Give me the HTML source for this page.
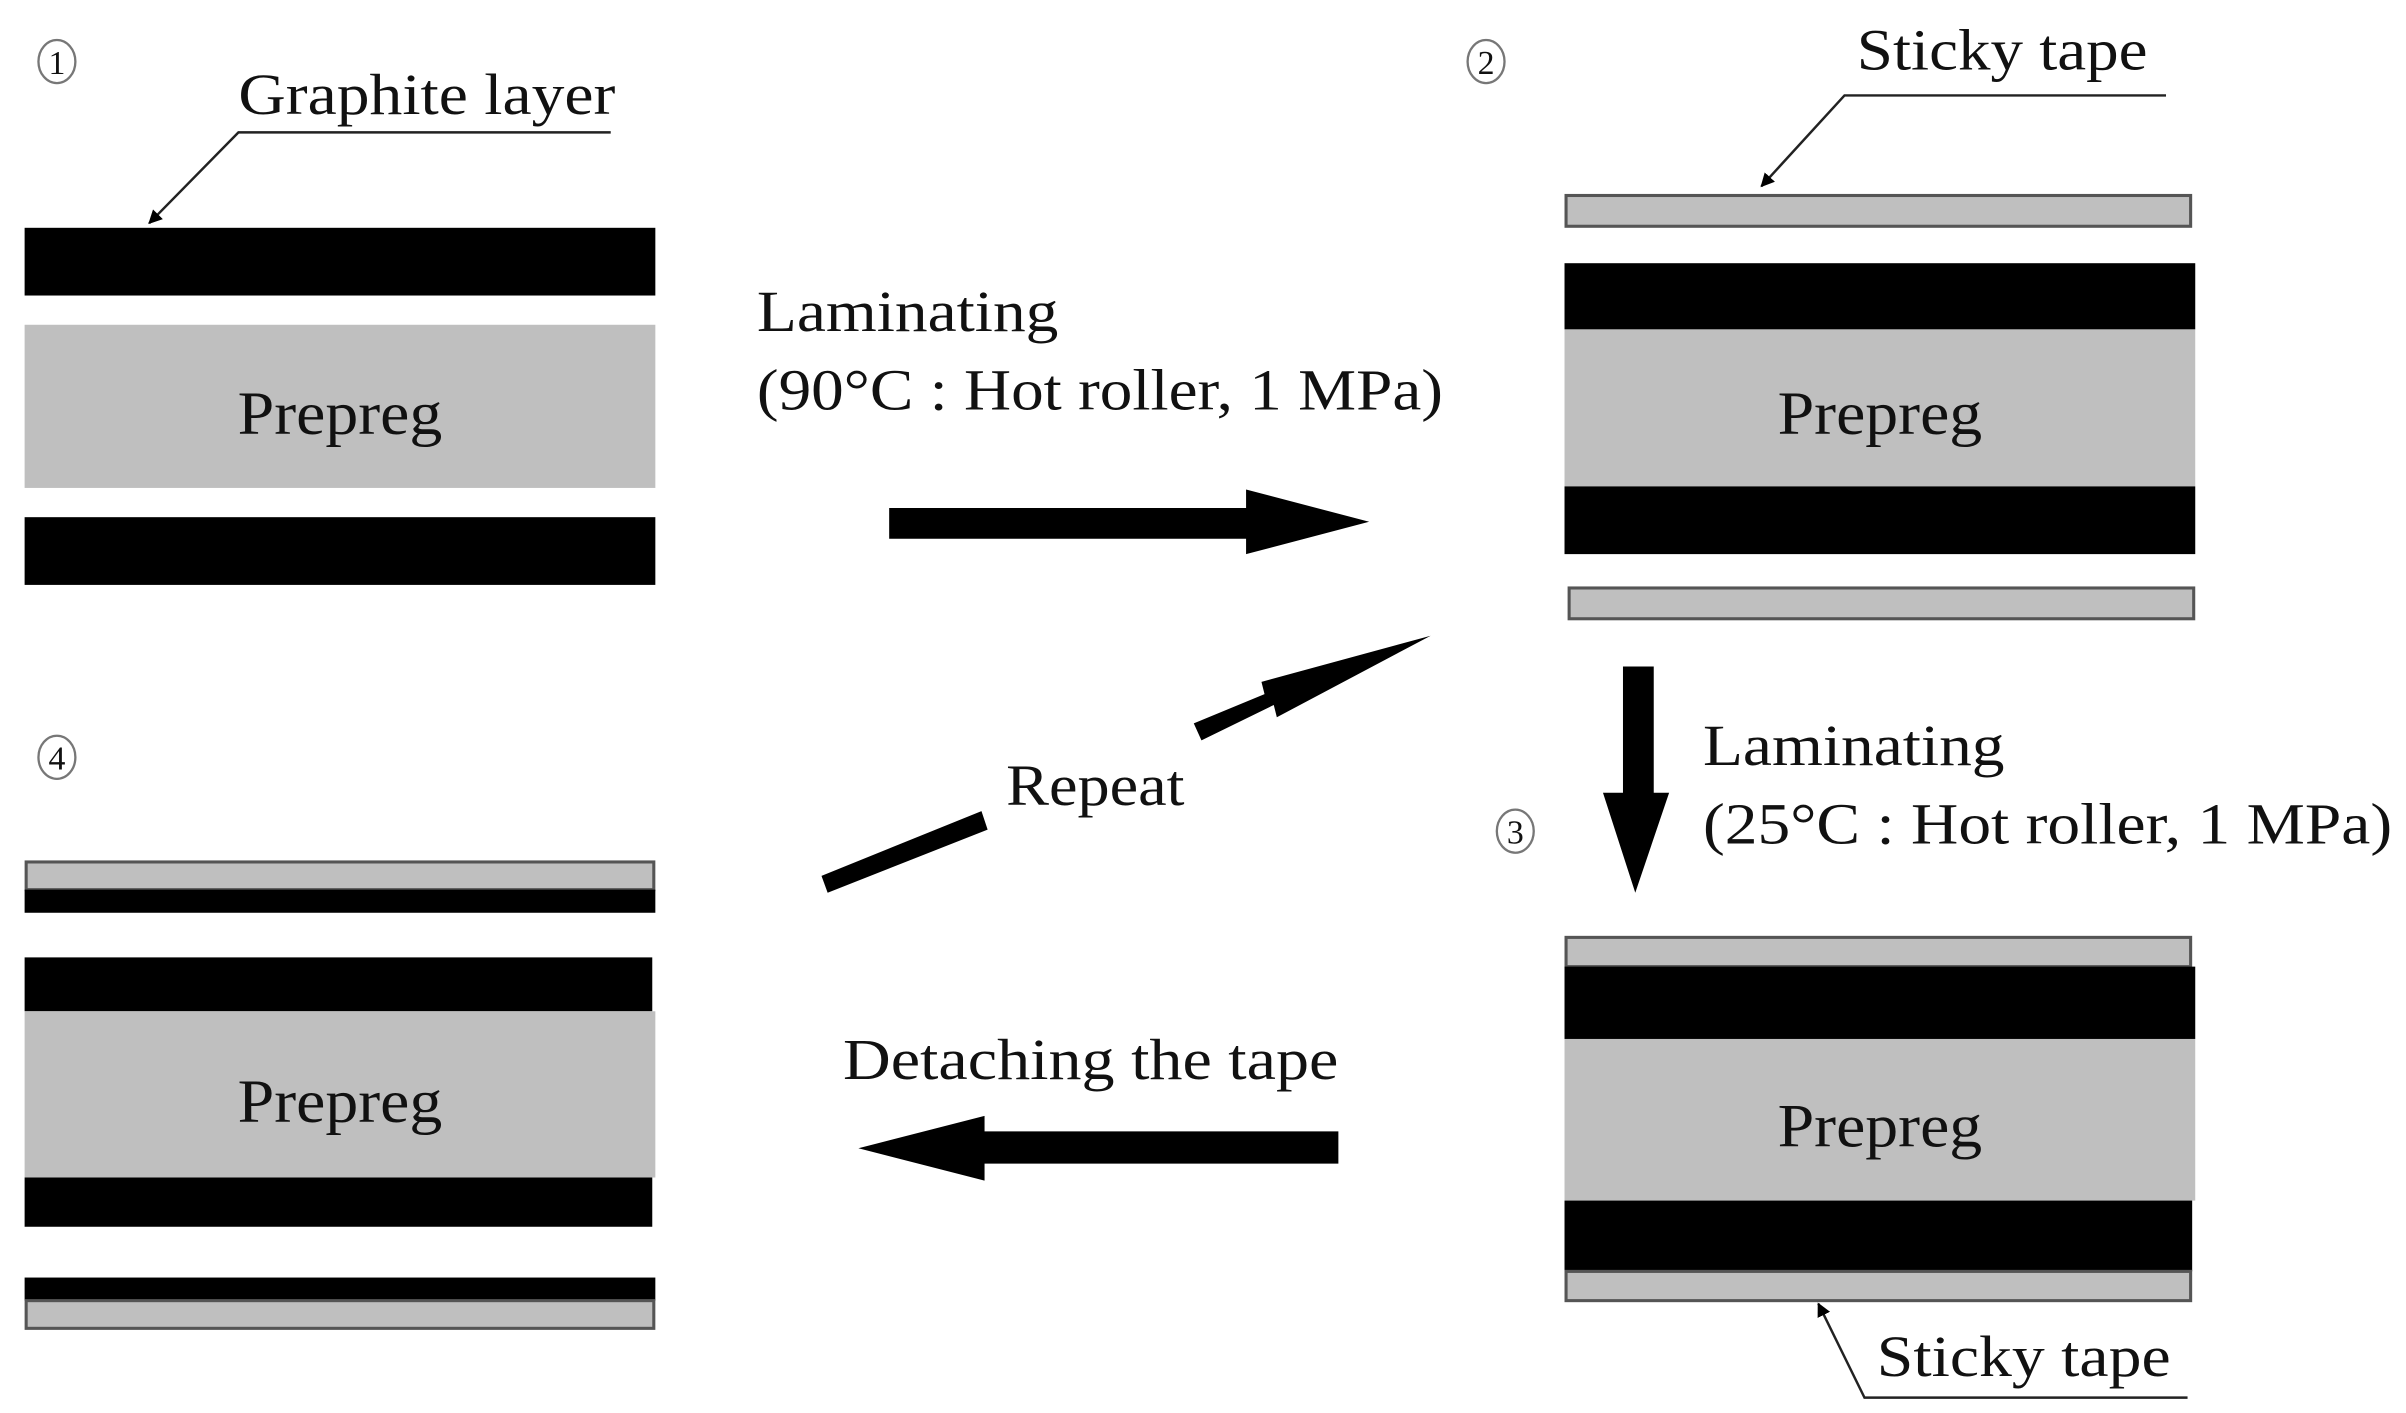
<!DOCTYPE html>
<html><head><meta charset="utf-8"><style>
html,body{margin:0;padding:0;background:#fff;}
svg{display:block;}
text{font-family:"Liberation Serif",serif;fill:#111;}
</style></head><body>
<svg width="2406" height="1413" viewBox="0 0 1564 918" preserveAspectRatio="none" xmlns="http://www.w3.org/2000/svg">
<defs>
<marker id="ah" viewBox="0 0 10 10" refX="9" refY="5" markerWidth="9" markerHeight="9" orient="auto" markerUnits="userSpaceOnUse"><path d="M0,0 L10,5 L0,10 z" fill="#000"/></marker>
</defs>
<g fill="none" stroke="#777" stroke-width="1.5">
<ellipse cx="37" cy="40" rx="12" ry="14"/>
<ellipse cx="966" cy="40" rx="12" ry="14"/>
<ellipse cx="985" cy="540" rx="12" ry="14"/>
<ellipse cx="37" cy="492" rx="12" ry="14"/>
</g>
<g font-size="22" text-anchor="middle" style="fill:#333">
<text x="37" y="48">1</text><text x="966" y="48">2</text><text x="985" y="548">3</text><text x="37" y="500">4</text>
</g>

<!-- Panel 1 -->
<text x="155" y="74" font-size="38" textLength="245" lengthAdjust="spacingAndGlyphs">Graphite layer</text>
<polyline points="397,86 155,86 97,145" fill="none" stroke="#222" stroke-width="1.6" marker-end="url(#ah)"/>
<rect x="16" y="148" width="410" height="44" fill="#000"/>
<rect x="16" y="211" width="410" height="106" fill="#bfbfbf"/>
<text x="221" y="282" font-size="40" text-anchor="middle" textLength="133" lengthAdjust="spacingAndGlyphs">Prepreg</text>
<rect x="16" y="336" width="410" height="44" fill="#000"/>

<!-- arrow right -->
<text x="492" y="215" font-size="38" textLength="196" lengthAdjust="spacingAndGlyphs">Laminating</text>
<text x="492" y="266" font-size="38" textLength="446" lengthAdjust="spacingAndGlyphs">(90°C : Hot roller, 1 MPa)</text>
<polygon points="578,330 810,330 810,318 890,339 810,360 810,350 578,350" fill="#000"/>

<!-- Panel 2 -->
<text x="1207" y="45" font-size="38" textLength="189" lengthAdjust="spacingAndGlyphs">Sticky tape</text>
<polyline points="1408,62 1199,62 1145,121" fill="none" stroke="#222" stroke-width="1.6" marker-end="url(#ah)"/>
<rect x="1018" y="127" width="406" height="20" fill="#bfbfbf" stroke="#555" stroke-width="2"/>
<rect x="1017" y="171" width="410" height="43" fill="#000"/>
<rect x="1017" y="214" width="410" height="102" fill="#bfbfbf"/>
<text x="1222" y="282" font-size="40" text-anchor="middle" textLength="133" lengthAdjust="spacingAndGlyphs">Prepreg</text>
<rect x="1017" y="316" width="410" height="44" fill="#000"/>
<rect x="1020" y="382" width="406" height="20" fill="#bfbfbf" stroke="#555" stroke-width="2"/>

<!-- down arrow -->
<polygon points="1055,433 1075,433 1075,515 1085,515 1063,580 1042,515 1055,515" fill="#000"/>
<text x="1107" y="497" font-size="38" textLength="196" lengthAdjust="spacingAndGlyphs">Laminating</text>
<text x="1107" y="548" font-size="38" textLength="448" lengthAdjust="spacingAndGlyphs">(25°C : Hot roller, 1 MPa)</text>

<!-- Panel 3 -->
<rect x="1018" y="609" width="406" height="19" fill="#bfbfbf" stroke="#555" stroke-width="2"/>
<rect x="1017" y="628" width="410" height="47" fill="#000"/>
<rect x="1017" y="675" width="410" height="105" fill="#bfbfbf"/>
<text x="1222" y="745" font-size="40" text-anchor="middle" textLength="133" lengthAdjust="spacingAndGlyphs">Prepreg</text>
<rect x="1017" y="780" width="408" height="46" fill="#000"/>
<rect x="1018" y="826" width="406" height="19" fill="#bfbfbf" stroke="#555" stroke-width="2"/>
<polyline points="1422,908 1212,908 1182,847" fill="none" stroke="#222" stroke-width="1.6" marker-end="url(#ah)"/>
<text x="1220" y="894" font-size="38" textLength="191" lengthAdjust="spacingAndGlyphs">Sticky tape</text>

<!-- Repeat -->
<text x="654" y="523" font-size="38" textLength="116" lengthAdjust="spacingAndGlyphs">Repeat</text>
<polygon points="534,569 638,527 642,539 538,580" fill="#000"/>
<polygon points="776,470 822,451 820,443 930,413 830,466 828,458 781,481" fill="#000"/>

<!-- Detaching -->
<text x="548" y="701" font-size="38" textLength="322" lengthAdjust="spacingAndGlyphs">Detaching the tape</text>
<polygon points="870,735 640,735 640,725 558,746 640,767 640,756 870,756" fill="#000"/>

<!-- Panel 4 -->
<rect x="17" y="560" width="408" height="18" fill="#bfbfbf" stroke="#555" stroke-width="2"/>
<rect x="16" y="578" width="410" height="15" fill="#000"/>
<rect x="16" y="622" width="408" height="35" fill="#000"/>
<rect x="16" y="657" width="410" height="108" fill="#bfbfbf"/>
<text x="221" y="729" font-size="40" text-anchor="middle" textLength="133" lengthAdjust="spacingAndGlyphs">Prepreg</text>
<rect x="16" y="765" width="408" height="32" fill="#000"/>
<rect x="16" y="830" width="410" height="15" fill="#000"/>
<rect x="17" y="845" width="408" height="18" fill="#bfbfbf" stroke="#555" stroke-width="2"/>
</svg>
</body></html>
